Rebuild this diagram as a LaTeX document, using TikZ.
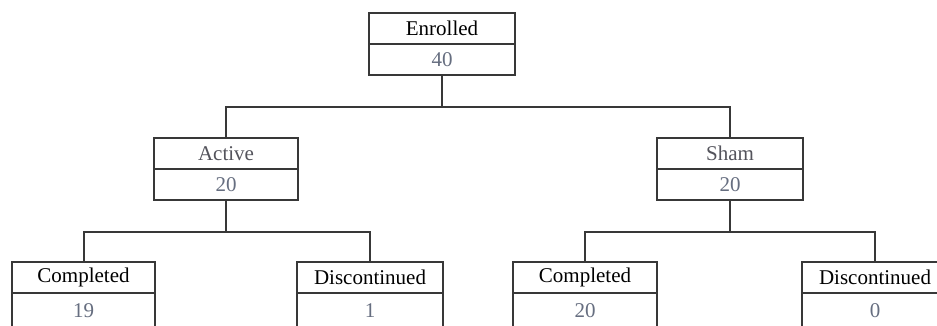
\documentclass[tikz,border=0pt]{standalone}
\usepackage{fontspec}
\setmainfont{Liberation Serif}
\definecolor{linec}{rgb}{0.22,0.22,0.22}
\definecolor{numc}{rgb}{0.40,0.43,0.50}
\definecolor{grayc}{rgb}{0.33,0.33,0.36}
\tikzset{
  part/.style={draw=linec, line width=2pt, rectangle, inner sep=0pt, outer sep=0pt,
    minimum height=31pt, font=\fontsize{21}{24}\selectfont, fill=white},
  lbl/.style={part, text=black},
  glbl/.style={part, text=grayc},
  num/.style={part, text=numc},
  lownum/.style={num, minimum height=35pt},
  conn/.style={draw=linec, line width=2pt}
}
\begin{document}
\begin{tikzpicture}[x=1pt,y=-1pt]
\useasboundingbox (0,0) rectangle (937,325);
\clip (0,0) rectangle (937,325);
% Top
\node[lbl, minimum width=146pt, anchor=north] (enrL) at (442,13) {Enrolled};
\node[num, minimum width=146pt, anchor=north] (enrN) at (enrL.south) {40};
% Second level
\node[glbl, minimum width=144pt, anchor=north] (actL) at (226,138) {Active};
\node[num, minimum width=144pt, anchor=north] (actN) at (actL.south) {20};
\node[glbl, minimum width=146pt, anchor=north] (shaL) at (730,138) {Sham};
\node[num, minimum width=146pt, anchor=north] (shaN) at (shaL.south) {20};
% Third level
\node[lbl, minimum width=143pt, anchor=north] (c1L) at (83.5,262) {Completed};
\node[lownum, minimum width=143pt, anchor=north] (c1N) at (c1L.south) {19};
\node[lbl, minimum width=146pt, anchor=north] (d1L) at (370,262) {Discontinued};
\node[lownum, minimum width=146pt, anchor=north] (d1N) at (d1L.south) {1};
\node[lbl, minimum width=144pt, anchor=north] (c2L) at (585,262) {Completed};
\node[lownum, minimum width=144pt, anchor=north] (c2N) at (c2L.south) {20};
\node[lbl, minimum width=146pt, anchor=north] (d2L) at (875,262) {Discontinued};
\node[lownum, minimum width=146pt, anchor=north] (d2N) at (d2L.south) {0};
% Connectors
\coordinate (j1) at (442,107);
\coordinate (j2) at (226,232);
\coordinate (j3) at (730,232);
\draw[conn] (enrN.south) -- (j1);
\draw[conn] (j1) -| (actL.north);
\draw[conn] (j1) -| (shaL.north);
\draw[conn] (actN.south) -- (j2);
\draw[conn] (j2) -| (c1L.north);
\draw[conn] (j2) -| (d1L.north);
\draw[conn] (shaN.south) -- (j3);
\draw[conn] (j3) -| (c2L.north);
\draw[conn] (j3) -| (d2L.north);
\end{tikzpicture}
\end{document}
